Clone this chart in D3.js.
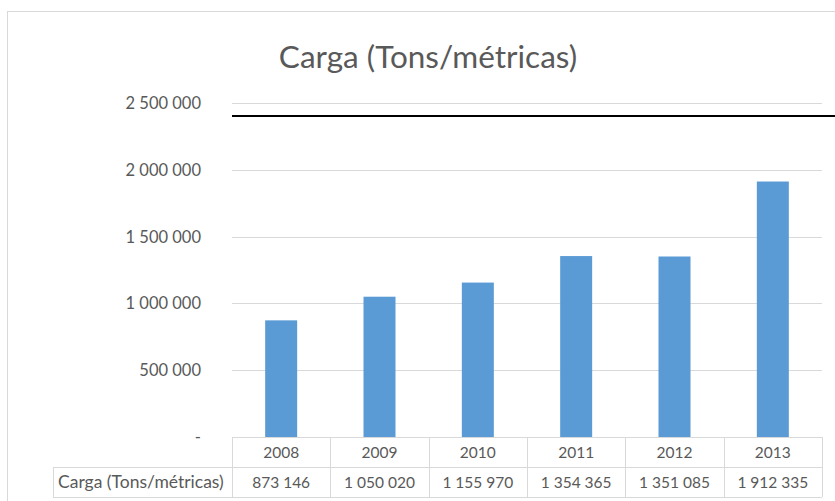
<!DOCTYPE html>
<html>
<head>
<meta charset="utf-8">
<script src="https://cdn.jsdelivr.net/npm/d3@7.9.0/dist/d3.min.js"></script>
<style>
  body { margin: 0; background: #fff; }
  svg { display: block; font-family: Lato, "Open Sans", sans-serif; }
</style>
</head>
<body>
<svg id="chart" width="835" height="501"></svg>
<script>
// data
const years = ['2008', '2009', '2010', '2011', '2012', '2013'];
const carga = [873146, 1050020, 1155970, 1354365, 1351085, 1912335];
const yTicks = [0, 500000, 1000000, 1500000, 2000000, 2500000];
const seriesName = 'Carga (Tons/métricas)';

const textColor = '#595959';
const gridColor = '#d9d9d9';
const barColor = '#5b9bd5';

const svg = d3.select('#chart');

// outer chart frame
svg.append('rect')
  .attr('x', 7.5).attr('y', 11.5)
  .attr('width', 900).attr('height', 600)
  .attr('fill', 'none')
  .attr('stroke', gridColor);

const x = d3.scaleBand().domain(years).range([232, 822]);
const y = d3.scaleLinear().domain([0, 2500000]).range([437, 103]);

// num format with spaces as thousand separator
const fmt = (v) => d3.format(',')(v).replace(/,/g, ' ');

svg.append('text')
  .attr('x', 428).attr('y', 68)
  .attr('text-anchor', 'middle')
  .attr('fill', textColor)
  .attr('font-size', 31.5)
  .text(seriesName);

// gridlines
svg.append('g')
  .selectAll('line')
  .data(yTicks)
  .join('line')
  .attr('x1', 232).attr('x2', 822)
  .attr('y1', (d) => Math.round(y(d)) + 0.5)
  .attr('y2', (d) => Math.round(y(d)) + 0.5)
  .attr('stroke', gridColor);

// y labels
svg.append('g')
  .selectAll('text')
  .data(yTicks)
  .join('text')
  .attr('x', 201)
  .attr('y', (d) => y(d) + 6)
  .attr('text-anchor', 'end')
  .attr('fill', textColor)
  .attr('font-size', 16.5)
  .text((d) => (d === 0 ? '-' : fmt(d)));

// bars
svg.append('g')
  .selectAll('rect')
  .data(carga)
  .join('rect')
  .attr('x', (d, i) => x(years[i]) + x.bandwidth() / 2 - 16)
  .attr('width', 32)
  .attr('y', (d) => y(d))
  .attr('height', (d) => y(0) - y(d))
  .attr('fill', barColor);

// black rule across the top
svg.append('line')
  .attr('x1', 232).attr('x2', 835)
  .attr('y1', 116).attr('y2', 116)
  .attr('stroke', '#000')
  .attr('stroke-width', 2);

// data table
const rowTop = 437, rowH = 30, labelLeft = 53;
const table = svg.append('g').attr('stroke', gridColor).attr('fill', 'none');
table.append('line').attr('x1', labelLeft).attr('x2', 822)
  .attr('y1', rowTop + rowH + 0.5).attr('y2', rowTop + rowH + 0.5);
table.append('line').attr('x1', labelLeft).attr('x2', 822)
  .attr('y1', rowTop + 2 * rowH + 0.5).attr('y2', rowTop + 2 * rowH + 0.5);
table.append('line').attr('x1', labelLeft + 0.5).attr('x2', labelLeft + 0.5)
  .attr('y1', rowTop + rowH).attr('y2', rowTop + 2 * rowH);
table.selectAll('line.v')
  .data(years.concat(['end']))
  .join('line')
  .attr('class', 'v')
  .attr('x1', (d) => Math.round(d === 'end' ? x.range()[1] : x(d)) + 0.5)
  .attr('x2', (d) => Math.round(d === 'end' ? x.range()[1] : x(d)) + 0.5)
  .attr('y1', rowTop).attr('y2', rowTop + 2 * rowH);

svg.append('g')
  .selectAll('text')
  .data(years)
  .join('text')
  .attr('x', (d) => x(d) + x.bandwidth() / 2)
  .attr('y', rowTop + 21)
  .attr('text-anchor', 'middle')
  .attr('fill', textColor)
  .attr('font-size', 15.5)
  .text((d) => d);

svg.append('g')
  .selectAll('text')
  .data(carga)
  .join('text')
  .attr('x', (d, i) => x(years[i]) + x.bandwidth() / 2)
  .attr('y', rowTop + rowH + 21)
  .attr('text-anchor', 'middle')
  .attr('fill', textColor)
  .attr('font-size', 15.5)
  .text((d) => fmt(d));

svg.append('text')
  .attr('x', 58)
  .attr('y', rowTop + rowH + 21)
  .attr('fill', textColor)
  .attr('font-size', 17.5)
  .text(seriesName);
</script>
</body>
</html>
